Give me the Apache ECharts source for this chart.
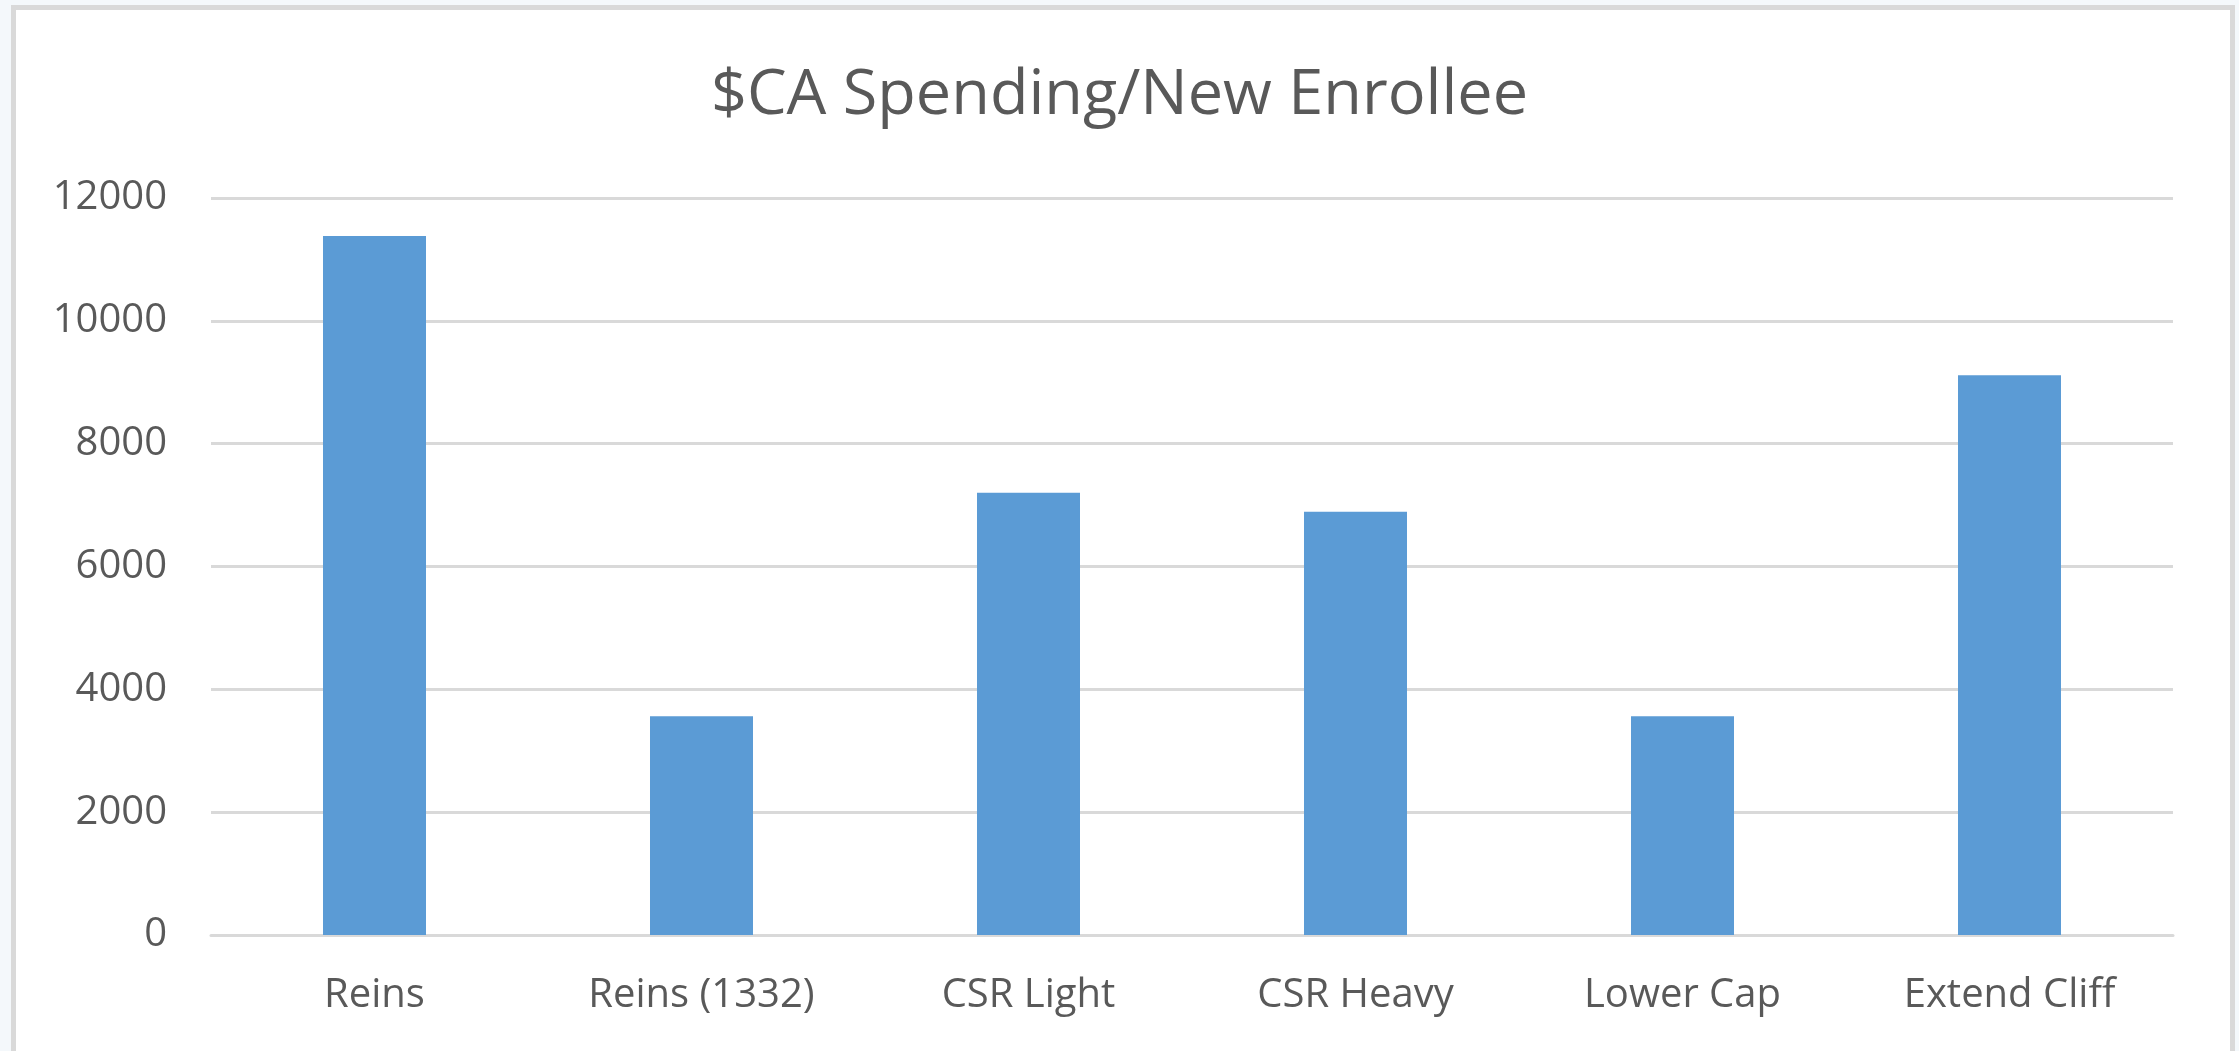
<!DOCTYPE html>
<html>
<head>
<meta charset="utf-8">
<script src="https://cdn.jsdelivr.net/npm/echarts@6/dist/echarts.min.js"></script>
<style>
  html, body { margin: 0; padding: 0; width: 2239px; height: 1051px; overflow: hidden; background: #F4F8FB; }
  #frame { position: absolute; left: 11px; top: 5px; width: 2214px; height: 1060px; border: 5px solid #D9D9D9; border-bottom: none; background: #FFFFFF; }
  #chart { position: absolute; left: 0; top: 0; width: 2239px; height: 1051px; }
</style>
</head>
<body>
<div id="frame"></div>
<div id="chart"></div>
<script>
const titleText = "$CA Spending/New Enrollee";
const categories = ["Reins", "Reins (1332)", "CSR Light", "CSR Heavy", "Lower Cap", "Extend Cliff"];
const values = [11380, 3560, 7200, 6890, 3560, 9115];
const yTicks = { min: 0, max: 12000, interval: 2000 };

const chart = echarts.init(document.getElementById('chart'), null, { renderer: 'canvas' });
const textColor = '#595959';
const font = '"Open Sans", "Noto Sans", sans-serif';
chart.setOption({
  animation: false,
  backgroundColor: 'transparent',
  title: {
    text: titleText,
    left: 'center',
    top: 60,
    textStyle: { fontFamily: font, fontSize: 63, fontWeight: 'normal', color: textColor }
  },
  grid: { left: 211, right: 66, top: 198, bottom: 116, containLabel: false },
  xAxis: {
    type: 'category',
    data: categories,
    axisLine: { show: true, lineStyle: { color: '#D9D9D9', width: 3 } },
    axisTick: { show: false },
    axisLabel: { color: textColor, fontFamily: font, fontSize: 40, margin: 41 }
  },
  yAxis: {
    type: 'value',
    min: yTicks.min, max: yTicks.max, interval: yTicks.interval,
    axisLine: { show: false },
    axisTick: { show: false },
    splitLine: { lineStyle: { color: '#D9D9D9', width: 3 } },
    axisLabel: { color: textColor, fontFamily: font, fontSize: 40, margin: 44, formatter: function (v) { return String(v); } }
  },
  series: [{
    type: 'bar',
    data: values,
    barWidth: '31.5%',
    itemStyle: { color: '#5B9BD5' }
  }]
});
</script>
</body>
</html>
